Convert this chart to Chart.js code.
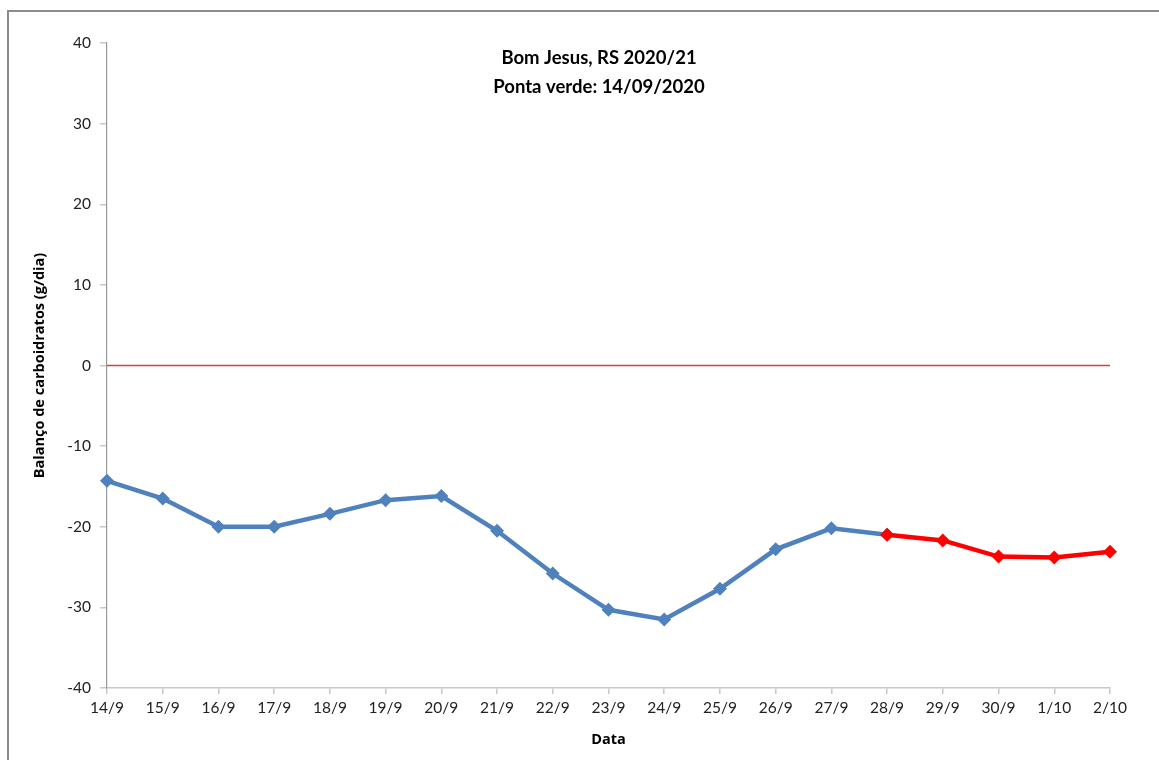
<!DOCTYPE html>
<html>
<head>
<meta charset="utf-8">
<script src="https://cdn.jsdelivr.net/npm/chart.js@4.4.0/dist/chart.umd.min.js"></script>
<style>
html,body{margin:0;padding:0;background:#fff;}
#wrap{width:1159px;height:760px;position:relative;}
</style>
</head>
<body>
<div id="wrap"><canvas id="c" width="1159" height="760"></canvas></div>
<script>
const categories = ['14/9','15/9','16/9','17/9','18/9','19/9','20/9','21/9','22/9','23/9','24/9','25/9','26/9','27/9','28/9','29/9','30/9','1/10','2/10'];
const observedValues = [-14.3,-16.5,-20.0,-20.0,-18.4,-16.7,-16.2,-20.5,-25.8,-30.3,-31.5,-27.7,-22.8,-20.2,-21.0,null,null,null,null];
const forecastValues = [null,null,null,null,null,null,null,null,null,null,null,null,null,null,-21.0,-21.7,-23.7,-23.8,-23.1];
const zeroLine = [0,0,0,0,0,0,0,0,0,0,0,0,0,0,0,0,0,0,0];
const yTicks = [-40,-30,-20,-10,0,10,20,30,40];
const titleLines = ['Bom Jesus, RS 2020/21','Ponta verde: 14/09/2020'];
const yTitle = 'Balanço de carboidratos (g/dia)';
const xTitle = 'Data';

const FONT = 'Lato, "Open Sans", sans-serif';
const TFONT = '"Open Sans", Lato, sans-serif';

const framePlugin = {
  id: 'frame',
  afterDraw(chart) {
    const ctx = chart.ctx;
    ctx.save();
    ctx.strokeStyle = '#8c8c8c';
    ctx.lineWidth = 2;
    ctx.beginPath();
    ctx.moveTo(8, 760);
    ctx.lineTo(8, 11);
    ctx.lineTo(1159, 11);
    ctx.stroke();
    ctx.fillStyle = '#000';
    ctx.font = 'bold 18.5px ' + FONT;
    ctx.textAlign = 'center';
    ctx.textBaseline = 'middle';
    ctx.fillText(titleLines[0], 599, 58);
    ctx.fillText(titleLines[1], 599, 87);
    ctx.restore();
  }
};

new Chart(document.getElementById('c'), {
  type: 'line',
  data: {
    labels: categories,
    datasets: [
      {
        label: 'zero',
        data: zeroLine,
        borderColor: '#d2403a',
        borderWidth: 1.5,
        pointRadius: 0,
        order: 3
      },
      {
        label: 'observado',
        data: observedValues,
        borderColor: '#4f81bd',
        backgroundColor: '#4f81bd',
        borderWidth: 4.5,
        pointStyle: 'rectRot',
        pointRadius: 7,
        pointBorderWidth: 0,
        spanGaps: false,
        order: 2
      },
      {
        label: 'previsto',
        data: forecastValues,
        borderColor: '#ff0000',
        backgroundColor: '#ff0000',
        borderWidth: 4.5,
        pointStyle: 'rectRot',
        pointRadius: 7,
        pointBorderWidth: 0,
        spanGaps: false,
        order: 1
      }
    ]
  },
  options: {
    responsive: false,
    animation: false,
    devicePixelRatio: 1,
    layout: { padding: { left: 0, right: 49, top: 43, bottom: 0 } },
    plugins: {
      legend: { display: false },
      title: { display: false },
      tooltip: { enabled: false }
    },
    scales: {
      x: {
        offset: false,
        grid: { drawOnChartArea: false, drawTicks: true, tickLength: 6, color: '#c8c8c8', lineWidth: 1.5 },
        border: { color: '#c8c8c8', width: 1.5 },
        ticks: { autoSkip: false, maxRotation: 0, minRotation: 0, color: '#222', font: { family: FONT, size: 15.5 }, padding: 5 },
        title: { display: true, text: xTitle, color: '#000', font: { family: TFONT, size: 14.5, weight: 'bold' }, padding: { top: 0, bottom: 11 } },
        afterFit(scale) { scale.height = 72; }
      },
      y: {
        min: -40,
        max: 40,
        afterBuildTicks(scale) { scale.ticks = yTicks.map(v => ({ value: v })); },
        grid: { drawOnChartArea: false, drawTicks: true, tickLength: 7, color: '#c8c8c8', lineWidth: 1.5 },
        border: { color: '#999', width: 1.2 },
        ticks: { color: '#222', font: { family: FONT, size: 15.5 }, padding: 9 },
        title: { display: true, text: yTitle, color: '#000', font: { family: TFONT, size: 14.5, weight: 'bold' }, padding: { top: 31, bottom: 0 } },
        afterFit(scale) { scale.width = 107; }
      }
    }
  },
  plugins: [framePlugin]
});
</script>
</body>
</html>
